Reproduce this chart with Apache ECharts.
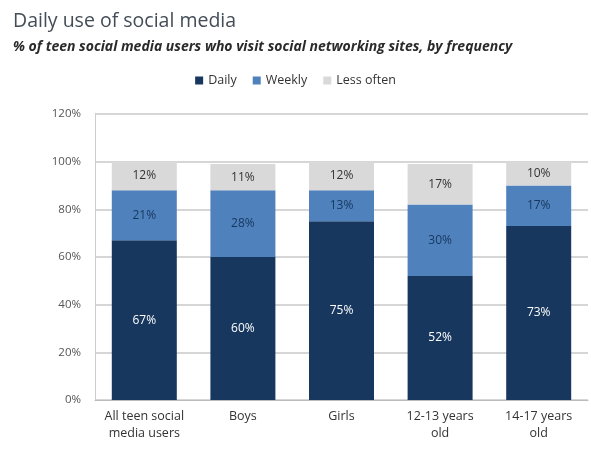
<!DOCTYPE html>
<html><head><meta charset="utf-8">
<script src="https://cdn.jsdelivr.net/npm/echarts@6/dist/echarts.min.js"></script>
<style>html,body{margin:0;padding:0;background:#fff}#c{width:591px;height:452px}</style>
</head><body><div id="c"></div>
<script>
const categories = ["All teen social\nmedia users", "Boys", "Girls", "12-13 years\nold", "14-17 years\nold"];
const daily = [67, 60, 75, 52, 73];
const weekly = [21, 28, 13, 30, 17];
const lessOften = [12, 11, 12, 17, 10];
const yTicks = [0, 20, 40, 60, 80, 100, 120];

const chart = echarts.init(document.getElementById('c'));
const lbl = (color) => ({show: true, position: 'inside', formatter: '{c}%', color: color, fontSize: 12, fontFamily: 'Open Sans, sans-serif'});
chart.setOption({
  animation: false,
  title: [{
    text: 'Daily use of social media', left: 8, top: 6,
    textStyle: {fontSize: 19.5, fontWeight: 'normal', color: '#434d57', fontFamily: 'Open Sans, sans-serif'}
  }, {
    text: '% of teen social media users who visit social networking sites, by frequency', left: 8, top: 35,
    textStyle: {fontSize: 14, fontStyle: 'italic', fontWeight: 'bold', color: '#2a2a2a', fontFamily: 'Open Sans, sans-serif'}
  }],
  legend: {
    top: 69, left: 'center', itemWidth: 8, itemHeight: 8, itemGap: 16, icon: 'rect',
    textStyle: {fontSize: 12.5, color: '#333', fontFamily: 'Open Sans, sans-serif'},
    data: ['Daily', 'Weekly', 'Less often']
  },
  grid: {left: 95, right: 3, top: 114, bottom: 52},
  xAxis: {
    type: 'category', data: categories,
    axisLine: {lineStyle: {color: '#bbb'}}, axisTick: {show: false},
    axisLabel: {color: '#333', fontSize: 12.5, lineHeight: 17, margin: 8, interval: 0, fontFamily: 'Open Sans, sans-serif'}
  },
  yAxis: {
    type: 'value', min: 0, max: 120, interval: 20,
    axisLine: {show: true, lineStyle: {color: '#ccc'}},
    splitLine: {lineStyle: {color: '#c8c8c8', width: 1.5}},
    axisLabel: {formatter: v => yTicks.includes(v) ? v + '%' : '', color: '#555', fontSize: 11.5, margin: 14, fontFamily: 'Open Sans, sans-serif'}
  },
  series: [
    {name: 'Daily', type: 'bar', stack: 's', data: daily, barWidth: 65, itemStyle: {color: '#17375e'}, label: lbl('#fff')},
    {name: 'Weekly', type: 'bar', stack: 's', data: weekly, itemStyle: {color: '#4f81bd'}, label: lbl('#17375e')},
    {name: 'Less often', type: 'bar', stack: 's', data: lessOften, itemStyle: {color: '#d9d9d9'}, label: lbl('#333')}
  ]
});
</script></body></html>
